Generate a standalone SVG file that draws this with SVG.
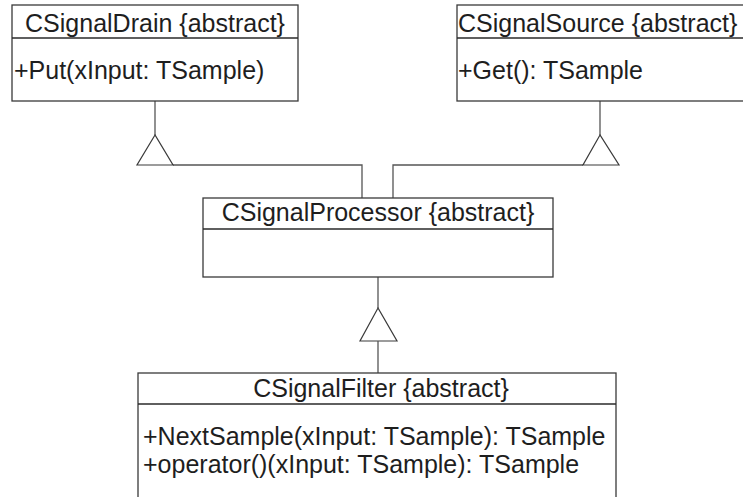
<svg xmlns="http://www.w3.org/2000/svg" width="743" height="497" viewBox="0 0 743 497">
  <style>
    .box { fill: #ffffff; stroke: #3a3a3a; stroke-width: 1.3; }
    .sep { stroke: #2a2a2a; stroke-width: 1.3; }
    .conn { fill: none; stroke: #555555; stroke-width: 1.3; }
    .tri { fill: #ffffff; stroke: #3a3a3a; stroke-width: 1.2; }
    .t { font-family: "Liberation Sans", Arial, sans-serif; font-size: 25px; fill: #1e1e1e; }
    .c { text-anchor: middle; }
  </style>
  <rect width="743" height="497" fill="#ffffff"/>

  <!-- generalisation connectors -->
  <g id="connectors">
    <!-- CSignalProcessor -> CSignalDrain -->
    <polyline class="conn" points="362,198 362,165 173,165"/>
    <line class="conn" x1="155" y1="101" x2="155" y2="135"/>
    <polygon class="tri" points="155,135 137,165 173,165"/>
    <!-- CSignalProcessor -> CSignalSource -->
    <polyline class="conn" points="393,198 393,165 583,165"/>
    <line class="conn" x1="600" y1="101" x2="600" y2="135"/>
    <polygon class="tri" points="600,135 583,165 619,165"/>
    <!-- CSignalFilter -> CSignalProcessor -->
    <line class="conn" x1="378" y1="277" x2="378" y2="308"/>
    <polygon class="tri" points="378,308 360,341 397,341"/>
    <line class="conn" x1="378" y1="341" x2="378" y2="373"/>
  </g>

  <g id="CSignalDrain">
    <rect class="box" x="12" y="5" width="286" height="96"/>
    <line class="sep" x1="12" y1="38" x2="298" y2="38"/>
    <text class="t c" x="155" y="32">CSignalDrain {abstract}</text>
    <text class="t" x="14" y="79">+Put(xInput: TSample)</text>
  </g>

  <g id="CSignalSource">
    <rect class="box" x="457" y="5" width="300" height="96"/>
    <line class="sep" x1="457" y1="38" x2="757" y2="38"/>
    <text class="t" x="458" y="32">CSignalSource {abstract}</text>
    <text class="t" x="458" y="79">+Get(): TSample</text>
  </g>

  <g id="CSignalProcessor">
    <rect class="box" x="203" y="198" width="350" height="79"/>
    <line class="sep" x1="203" y1="229" x2="553" y2="229"/>
    <text class="t c" x="378" y="221">CSignalProcessor {abstract}</text>
  </g>

  <g id="CSignalFilter">
    <rect class="box" x="138" y="373" width="478" height="140"/>
    <line class="sep" x1="138" y1="404" x2="616" y2="404"/>
    <text class="t c" x="381" y="397">CSignalFilter {abstract}</text>
    <text class="t" x="143" y="445">+NextSample(xInput: TSample): TSample</text>
    <text class="t" x="143" y="473">+operator()(xInput: TSample): TSample</text>
  </g>
</svg>
